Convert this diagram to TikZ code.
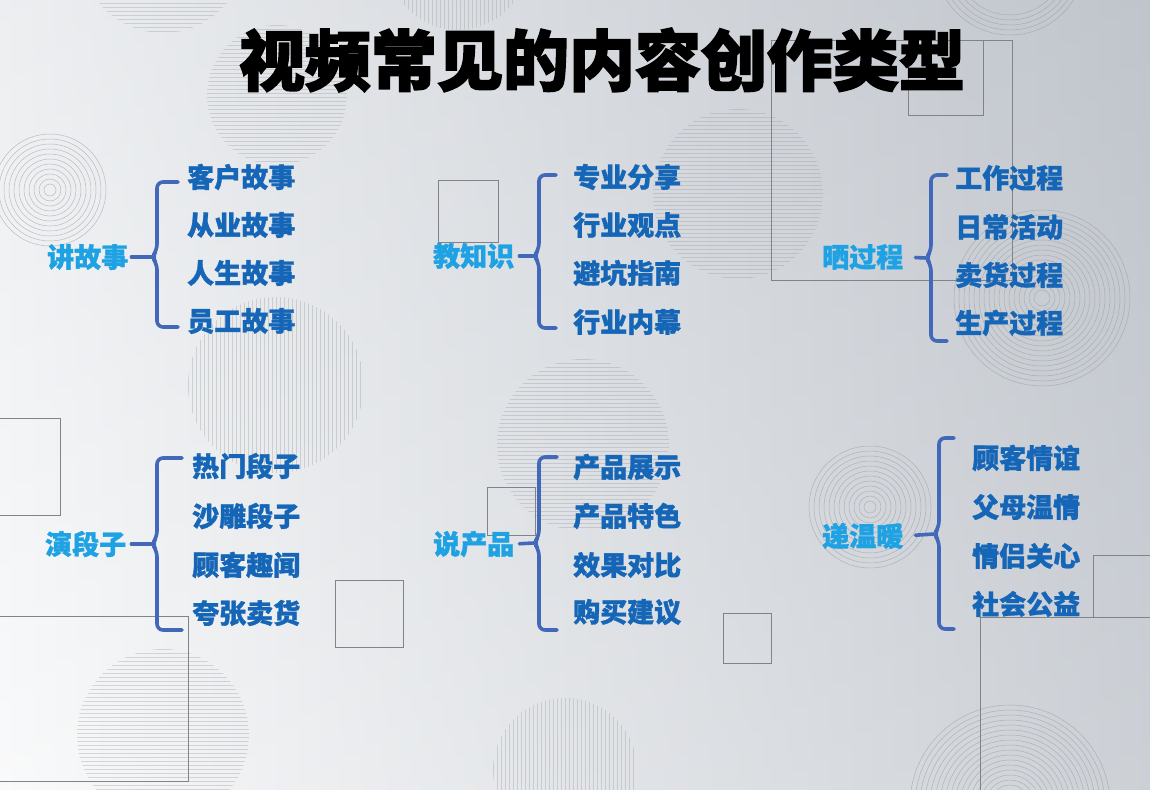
\documentclass[tikz,border=0pt]{standalone}
\usepackage{fontspec}
\setmainfont{Noto Sans CJK SC}[BoldFeatures={FakeBold=1.2}]
\newfontfamily\titlefont{Noto Sans CJK SC}[BoldFeatures={FakeBold=2.5}]
\usetikzlibrary{calc}
\definecolor{itemblue}{RGB}{22,102,184}
\definecolor{labelcyan}{RGB}{30,162,228}
\definecolor{bracecol}{RGB}{66,104,186}
\definecolor{bgL}{RGB}{248,249,250}
\definecolor{bgR}{RGB}{192,197,204}
\definecolor{decogray}{RGB}{150,154,160}
\newcommand\ringset[4]{% cx cy rmin rmax
  \pgfmathtruncatemacro\rsec{#3+5}%
  \foreach \rr in {#3,\rsec,...,#4} {\draw[deco] (#1,#2) circle (\rr pt);}}
\newcommand\vstripes[3]{% cx cy r
  \begin{scope}\clip (#1,#2) circle (#3pt);
  \pgfmathtruncatemacro\sa{-#3}\pgfmathtruncatemacro\sb{-#3+4}%
  \foreach \kk in {\sa,\sb,...,#3} {\draw[stripe] ({#1+\kk},{#2-#3}) -- ++(0,{2*#3});}
  \end{scope}}
\newcommand\hstripes[3]{% cx cy r
  \begin{scope}\clip (#1,#2) circle (#3pt);
  \pgfmathtruncatemacro\sa{-#3}\pgfmathtruncatemacro\sb{-#3+4}%
  \foreach \kk in {\sa,\sb,...,#3} {\draw[stripe] ({#1-#3},{#2+\kk}) -- ++({2*#3},0);}
  \end{scope}}
\newcommand\bracepath[5]{% x top bottom mid right
  \draw[brace,rounded corners=6pt] (#5,#2) -- (#1,#2) -- (#1,{#4-7}) -- ({#1-5},#4) -- (#1,{#4+7}) -- (#1,#3) -- (#5,#3);}
\begin{document}
\begin{tikzpicture}[x=1pt,y=-1pt,
  deco/.style={draw=decogray,line width=0.5pt,opacity=0.6},
  stripe/.style={draw=decogray,line width=0.5pt,opacity=0.35},
  sq/.style={draw=decogray!85!black,line width=0.8pt},
  brace/.style={draw=bracecol,line width=3.6pt,line cap=round,line join=round},
  conn/.style={draw=bracecol,line width=3.6pt,line cap=round},
  item/.style={anchor=west,inner sep=0pt,text=itemblue,font=\fontsize{27}{27}\selectfont\bfseries},
  lab/.style={anchor=west,inner sep=0pt,text=labelcyan,font=\fontsize{27}{27}\selectfont\bfseries},
  titlestyle/.style={inner sep=0pt,text=black,font=\titlefont\fontsize{66}{66}\selectfont\bfseries}]
\useasboundingbox (0,0) rectangle (1150,789);
\shade[left color=bgL,right color=bgR] (0,0) rectangle (1150,789);
\shade[top color=bgR,bottom color=white,opacity=0.2] (0,0) rectangle (1150,789);
% decorative rings
\ringset{50}{190}{6}{58}
\ringset{1042}{298}{8}{90}
\ringset{870}{507}{6}{61}
\ringset{1010}{805}{20}{100}
\ringset{1010}{-40}{55}{75}
% striped discs
\vstripes{276}{385}{88}
\vstripes{458}{-40}{70}
\vstripes{565}{770}{72}
\hstripes{583}{445}{86}
\hstripes{163}{735}{86}
\hstripes{738}{194}{85}
\hstripes{163}{-50}{83}
\hstripes{277}{95}{70}
% squares and frames
\draw[sq] (438,180) rectangle (498,242);
\draw[sq] (487,487) rectangle (535,535);
\draw[sq] (723,613) rectangle (771,663);
\draw[sq] (335,580) rectangle (403,647);
\draw[sq] (908,40) rectangle (983,115);
\draw[sq] (771,40) rectangle (1012,280);
\draw[sq] (-2,616) rectangle (188,781);
\draw[sq] (-2,418) rectangle (60,515);
\draw[sq] (1152,617) -- (980,617) -- (980,791);
\draw[sq] (1152,555) -- (1093,555) -- (1093,617);
% title
\node[titlestyle] (title) at (602,60) {视频常见的内容创作类型};
% group 1
\node[lab] (g1) at (47,257) {讲故事};
\node[item] (g1a) at (187,177) {客户故事};
\node[item] (g1b) at (187,225) {从业故事};
\node[item] (g1c) at (187,273) {人生故事};
\node[item] (g1d) at (187,321) {员工故事};
\bracepath{157}{182}{327}{257}{178}
\draw[conn,shorten <=3pt] (g1.east) -- (152,257);
% group 2
\node[lab] (g2) at (433,256) {教知识};
\node[item] (g2a) at (573,177) {专业分享};
\node[item] (g2b) at (573,225) {行业观点};
\node[item] (g2c) at (573,273) {避坑指南};
\node[item] (g2d) at (573,322) {行业内幕};
\bracepath{539}{175}{328}{256}{556}
\draw[conn,shorten <=5pt] (g2.east) -- (534,256);
% group 3
\node[lab] (g3) at (822,257) {晒过程};
\node[item] (g3a) at (955,178) {工作过程};
\node[item] (g3b) at (955,227) {日常活动};
\node[item] (g3c) at (955,275) {卖货过程};
\node[item] (g3d) at (955,323) {生产过程};
\bracepath{931}{175}{341}{258}{947}
\draw[conn,shorten <=12pt] (g3.east) -- (926,258);
% group 4
\node[lab] (g4) at (45,544) {演段子};
\node[item] (g4a) at (192,466) {热门段子};
\node[item] (g4b) at (192,516) {沙雕段子};
\node[item] (g4c) at (192,565) {顾客趣闻};
\node[item] (g4d) at (192,613) {夸张卖货};
\bracepath{157}{458}{630}{544}{182}
\draw[conn,shorten <=5pt] (g4.east) -- (152,544);
% group 5
\node[lab] (g5) at (433,544) {说产品};
\node[item] (g5a) at (573,467) {产品展示};
\node[item] (g5b) at (573,516) {产品特色};
\node[item] (g5c) at (573,565) {效果对比};
\node[item] (g5d) at (573,612) {购买建议};
\bracepath{539}{457}{630}{543}{557}
\draw[conn,shorten <=5pt] (g5.east) -- (534,543);
% group 6
\node[lab] (g6) at (822,536) {递温暖};
\node[item] (g6a) at (972,458) {顾客情谊};
\node[item] (g6b) at (972,507) {父母温情};
\node[item] (g6c) at (972,556) {情侣关心};
\node[item] (g6d) at (972,604) {社会公益};
\bracepath{939}{438}{629}{534}{954}
\draw[conn,shorten <=12pt] (g6.east) -- (934,534);
\end{tikzpicture}
\end{document}
